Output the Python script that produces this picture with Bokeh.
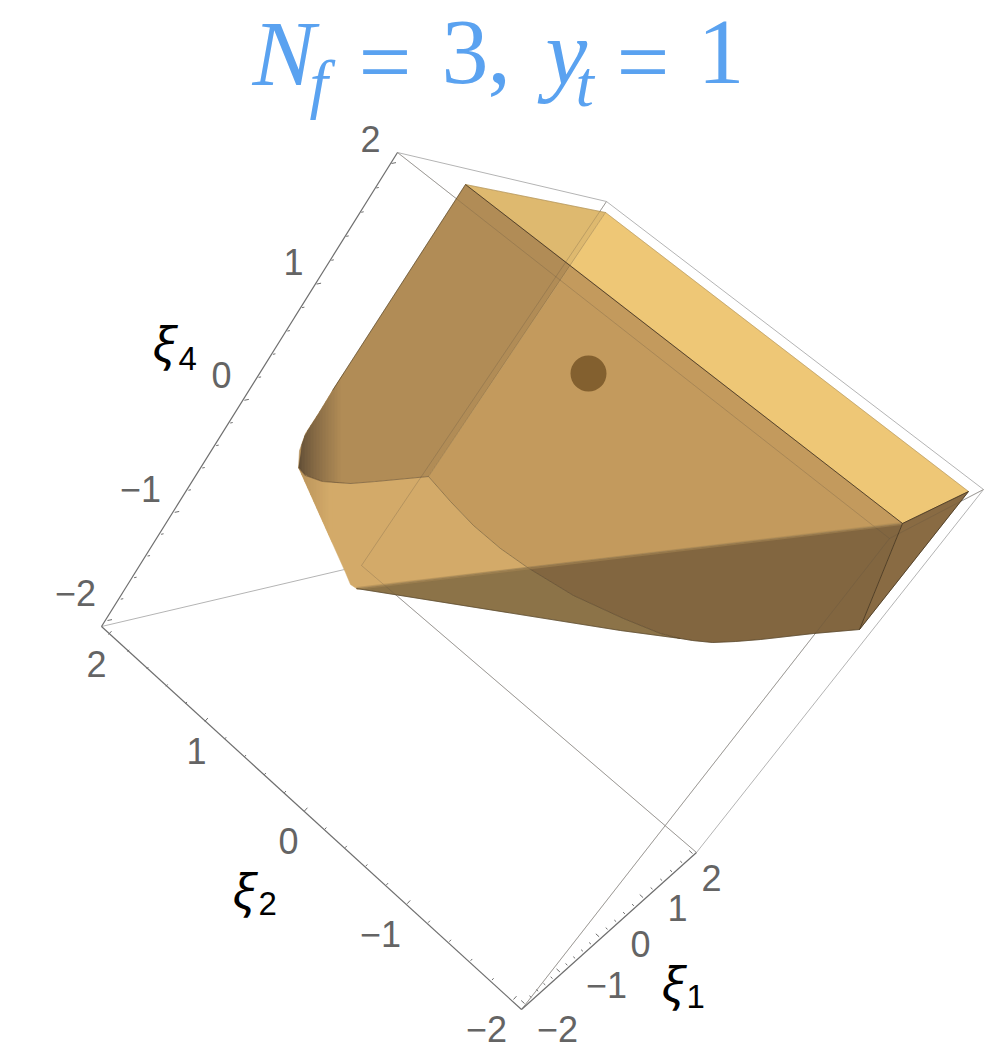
import numpy as np
from bokeh.plotting import figure
from bokeh.models import Range1d
from bokeh.core.properties import value
from bokeh.embed import file_html
from bokeh.resources import INLINE

# box corners
O = (101, 626); A = (397, 152); B = (606, 201); R = (983, 489)
C = (889, 538); D = (361, 565); E = (521, 1009); F = (696, 852)
box_back = [(O, D), (D, B), (D, F), (A, B), (A, C), (B, R), (C, R), (E, C), (F, R)]
inner = [(D, B), (D, F), (A, C), (E, C), (C, R)]
axes = [(O, A), (O, E), (E, F)]

tick_values = [round(-2 + 0.2 * i, 1) for i in range(21)]
xi4_ends = ((107, 620), (391, 163), 0.93)
xi2_ends = ((108, 634), (513, 999), 0.937)
xi1_ends = ((524, 1003), (692, 853), 0.80)

# body outline pieces
T = (465, 184); Bp = (605, 212); Rp = (968, 491); S = (902, 523); Q = (859, 629); X = (570, 265); Pc = (428, 476)
left_curve = [(465, 184), (332, 390), (318, 413), (305, 433), (299, 450), (298, 467)]
under_curve = [(298, 467), (305, 475), (322, 481), (350, 483), (375, 481), (428, 476)]
left_edge = [(298, 467), (345, 572), (350, 584), (356, 588)]
inner_curve = [(428, 476), (450, 501), (473, 525), (500, 548), (527, 567)]
inner_curve2 = [(527, 567), (573, 595), (623, 618), (660, 633), (680, 638)]
bottom_left = [(356, 588), (620, 630), (680, 638)]
bottom_right = [(680, 638), (692, 640), (712, 642), (735, 641), (760, 639), (813, 633), (859, 629)]
band_start = (356, 588)
band_mid = (527, 567)

face_top = [T, Bp, X]
face_yellow = [Bp, Rp, S, X]
face_left = left_curve + under_curve[1:] + [X]
face_center = [X, S, band_mid] + inner_curve[::-1][1:]
face_lower = under_curve + inner_curve[1:] + [band_start] + left_edge[::-1][:-1]
face_band_left = [band_start, band_mid] + inner_curve2[1:] + bottom_left[::-1][1:]
face_band_right = [band_mid, S, Q] + bottom_right[::-1][1:-1] + inner_curve2[::-1][:-1]
face_right = [S, Rp, Q]
face_colors = ["#DEB96F", "#EEC776", "#B18C56", "#C39A5D", "#D3AA69", "#8C7348", "#826640", "#896B43"]

dot = (588, 373)
dot_radius = 18

tick_labels = {
    "xi4": [("2", 370, 138), ("1", 293, 261), ("0", 221, 374), ("\u22121", 140, 488), ("\u22122", 75, 592)],
    "xi2": [("2", 96, 663), ("1", 196, 750), ("0", 288, 840), ("\u22121", 380, 933), ("\u22122", 486, 1028)],
    "xi1": [("\u22122", 557, 1028), ("\u22121", 606, 984), ("0", 640, 943), ("1", 677, 907), ("2", 711, 877)],
}
axis_names = [("\u03be", "4", 152, 342, 178, 357.5), ("\u03be", "2", 232, 889, 258, 903), ("\u03be", "1", 661, 982, 686, 996)]

title_pieces = [
    ("N", 252, 52, 94, "italic"), ("f", 309, 83, 66, "italic"), ("=", 358, 60, 94, "normal"),
    ("3", 441, 52, 94, "normal"), (",", 487, 52, 94, "normal"), ("y", 545, 51, 94, "italic"),
    ("t", 575, 83, 66, "italic"), ("=", 616, 60, 94, "normal"), ("1", 697, 52, 94, "normal"),
]

p = figure(width=999, height=1050, x_range=Range1d(0, 999), y_range=Range1d(1050, 0),
           output_backend="svg", toolbar_location=None, min_border=0)
p.axis.visible = False
p.grid.visible = False
p.outline_line_color = None
p.background_fill_color = "white"


def seg(pairs, color, width, alpha=1.0):
    p.multi_line([[a[0], b[0]] for a, b in pairs], [[a[1], b[1]] for a, b in pairs],
                 line_color=color, line_width=width, line_alpha=alpha)


def xy(pts):
    return [q[0] for q in pts], [q[1] for q in pts]


def proj(a, b, ratio, t):
    wa, wb = 1.0, ratio
    d = (1 - t) * wa + t * wb
    return (((1 - t) * wa * a[0] + t * wb * b[0]) / d, ((1 - t) * wa * a[1] + t * wb * b[1]) / d)


def blend(c0, c1, f):
    return "#%02X%02X%02X" % tuple(int(round(a + (b - a) * f)) for a, b in zip(c0, c1))


seg(box_back, "#B4B4B4", 1)

faces = [face_top, face_yellow, face_left, face_center, face_lower, face_band_left, face_band_right, face_right]
for pts, col in zip(faces, face_colors):
    xs, ys = xy(pts)
    p.patch(xs, ys, fill_color=col, line_color=col, line_width=0.5)

# soft shading of the rounded left part
lc = left_curve[::-1]
ux, uy = xy(under_curve)
lx, ly = xy(lc)
ex, ey = xy(left_edge)
grid = list(range(298, 344, 3))
for i in range(len(grid) - 1):
    x0, x1 = grid[i], grid[i + 1] + 1
    f = (i / (len(grid) - 2)) ** 0.8
    col = blend((100, 80, 55), (177, 140, 86), f)
    top0, top1 = np.interp(x0, lx, ly), np.interp(x1, lx, ly)
    bot0, bot1 = np.interp(x0, ux, uy), np.interp(x1, ux, uy)
    p.patch([x0, x1, x1, x0], [top0, top1, bot1, bot0], fill_color=col, line_color=None)
grid2 = list(range(298, 332, 3))
for i in range(len(grid2) - 1):
    x0, x1 = grid2[i], grid2[i + 1] + 1
    f = i / (len(grid2) - 2)
    col = blend((186, 148, 92), (211, 170, 105), f)
    top0, top1 = np.interp(x0, ux, uy), np.interp(x1, ux, uy)
    bot0, bot1 = np.interp(x0, ex, ey), np.interp(x1, ex, ey)
    p.patch([x0, x1, x1, x0], [top0, top1, bot1, bot0], fill_color=col, line_color=None)

# faint lines seen through the body
seg(inner, "#5A5040", 1, 0.25)
xs, ys = xy(inner_curve + inner_curve2[1:])
p.line(xs, ys, line_color="#4A3A22", line_width=1, line_alpha=0.45)
xs, ys = xy(under_curve)
p.line(xs, ys, line_color="#5A4630", line_width=1.2, line_alpha=0.55)
p.line([Pc[0], Bp[0]], [Pc[1], Bp[1]], line_color="#6B5535", line_width=1, line_alpha=0.3)
# soft edge of the shadow band
xs, ys = xy([band_start, S])
p.line(xs, ys, line_color="#A88753", line_width=3, line_alpha=0.5)

# crisp body edges
seg([(T, S), (S, Q), (S, Rp), (Rp, Q)], "#4A3A22", 1, 0.9)
xs, ys = xy(left_curve[:2])
p.line(xs, ys, line_color="#4A3A22", line_width=1, line_alpha=0.6)
xs, ys = xy([T, Bp, Rp])
p.line(xs, ys, line_color="#8A7040", line_width=0.8, line_alpha=0.5)
xs, ys = xy(bottom_left + bottom_right[1:])
p.line(xs, ys, line_color="#4A3A22", line_width=1, line_alpha=0.6)

p.scatter([dot[0]], [dot[1]], size=2 * dot_radius, marker="circle", fill_color="#83602F", line_color=None)

seg(axes, "#6E6E6E", 1.2)

# ticks
for (a, b, r), (dx, dy) in [(xi4_ends, (1.0, -0.2)), (xi2_ends, (0.67, -0.74)), (xi1_ends, (-0.74, -0.67))]:
    tx0, ty0, tx1, ty1 = [], [], [], []
    for i, v in enumerate(tick_values):
        q = proj(a, b, r, i / (len(tick_values) - 1))
        ln = 4.5 if i % 5 == 0 else 2.5
        tx0.append(q[0]); ty0.append(q[1]); tx1.append(q[0] + dx * ln); ty1.append(q[1] + dy * ln)
    p.segment(tx0, ty0, tx1, ty1, line_color="#6E6E6E", line_width=1)

for group in tick_labels.values():
    for s, x, y in group:
        p.text([x], [y], text=[s], text_font=value("Liberation Sans"), text_font_size="36px",
               text_color="#646464", text_align="center", text_baseline="middle")

for s, sub, x, y, sx, sy in axis_names:
    p.text([x], [y], text=[s], text_font=value("Noto Sans"), text_font_style="italic",
           text_font_size="48px", text_color="black", text_baseline="alphabetic")
    p.text([sx], [sy], text=[sub], text_font=value("Liberation Sans"),
           text_font_size="33px", text_color="black", text_baseline="alphabetic")

for s, x, y, size, style in title_pieces:
    p.text([x], [y], text=[s], text_font=value("Liberation Serif"), text_font_style=style,
           text_font_size=f"{size}px", text_color="#5AA2F0", text_baseline="alphabetic")

open("out.html", "w").write(file_html(p, INLINE))
